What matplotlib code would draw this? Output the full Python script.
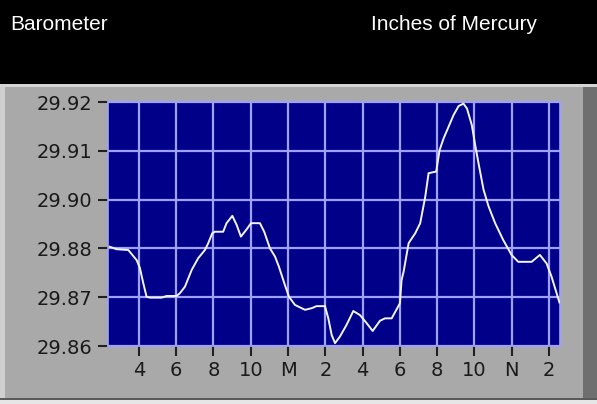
import numpy as np
import matplotlib
matplotlib.use('Agg')
import matplotlib.pyplot as plt
from matplotlib.patches import Rectangle
from matplotlib.ticker import FormatStrFormatter

# hours since previous midnight (24 = midnight, 36 = noon)
hours = [14.44, 14.80, 15.43, 15.88, 16.05, 16.23, 16.41, 16.59, 17.22, 17.49,
         18.02, 18.20, 18.47, 18.83, 19.18, 19.54, 19.72, 19.93, 20.08, 20.52,
         20.70, 21.01, 21.24, 21.47, 21.78, 22.01, 22.49, 22.72, 23.03, 23.30,
         23.51, 23.83, 24.05, 24.37, 24.91, 25.27, 25.53, 25.98, 26.16, 26.34,
         26.52, 26.78, 27.14, 27.50, 27.86, 28.22, 28.54, 28.93, 29.20, 29.56,
         30.00, 30.09, 30.20, 30.47, 30.82, 31.09, 31.36, 31.54, 31.95, 32.13,
         32.35, 32.61, 32.88, 33.15, 33.41, 33.60, 33.86, 34.04, 34.22, 34.49,
         34.76, 35.11, 35.54, 35.99, 36.35, 37.07, 37.51, 37.87, 38.14, 38.56]
pressure = [29.8844, 29.8838, 29.8836, 29.8811, 29.8792, 29.8755, 29.8721, 29.8719, 29.8719, 29.8723,
            29.8723, 29.8730, 29.8746, 29.8787, 29.8816, 29.8836, 29.8853, 29.8877, 29.8881, 29.8881,
            29.8902, 29.8920, 29.8898, 29.8869, 29.8887, 29.8902, 29.8902, 29.8881, 29.8840, 29.8820,
            29.8795, 29.8750, 29.8721, 29.8701, 29.8689, 29.8693, 29.8698, 29.8698, 29.8668, 29.8627,
            29.8607, 29.8623, 29.8652, 29.8686, 29.8676, 29.8656, 29.8637, 29.8662, 29.8668, 29.8668,
            29.8705, 29.8762, 29.8783, 29.8853, 29.8877, 29.8902, 29.8967, 29.9025, 29.9029, 29.9082,
            29.9111, 29.9139, 29.9168, 29.9190, 29.9196, 29.9184, 29.9143, 29.9094, 29.9049, 29.8984,
            29.8943, 29.8902, 29.8861, 29.8824, 29.8807, 29.8807, 29.8824, 29.8803, 29.8770, 29.8707]

tick_hours = [16, 18, 20, 22, 24, 26, 28, 30, 32, 34, 36, 38]
tick_labels = ['4', '6', '8', '10', 'M', '2', '4', '6', '8', '10', 'N', '2']
y_min, y_max = 29.86, 29.92

fig = plt.figure(figsize=(5.97, 4.04), dpi=100)
fig.patch.set_facecolor('#a9a9a9')

# panel decoration: black header, bevels
fig.patches.append(Rectangle((0, 1 - 84 / 404), 1, 84 / 404, transform=fig.transFigure,
                             facecolor='black', edgecolor='none', zorder=0))
fig.patches.append(Rectangle((0, 1 - 87 / 404), 1, 3 / 404, transform=fig.transFigure,
                             facecolor='#d4d4d4', edgecolor='none', zorder=0))
fig.patches.append(Rectangle((0, 0), 5 / 597, 1 - 87 / 404, transform=fig.transFigure,
                             facecolor='#cfcfcf', edgecolor='none', zorder=0))
fig.patches.append(Rectangle((583 / 597, 0), 14 / 597, 1 - 87 / 404, transform=fig.transFigure,
                             facecolor='#6f6f6f', edgecolor='none', zorder=0))
fig.patches.append(Rectangle((0, 0), 1, 4 / 404, transform=fig.transFigure,
                             facecolor='#e6e6e6', edgecolor='none', zorder=0))
fig.patches.append(Rectangle((0, 4 / 404), 1, 2 / 404, transform=fig.transFigure,
                             facecolor='#5a5a5a', edgecolor='none', zorder=0))

fig.text(10 / 597, 1 - 25 / 404, 'Barometer', color='white', fontsize=15,
         family='Liberation Sans', va='center', ha='left')
fig.text(371 / 597, 1 - 25 / 404, 'Inches of Mercury', color='white', fontsize=15,
         family='Liberation Sans', va='center', ha='left')

ax = fig.add_axes([108 / 597, 1 - 346 / 404, 452 / 597, 244 / 404])
ax.set_facecolor('#000088')
ax.plot(hours, pressure, color='#f4f4f4', lw=1.4, zorder=3)

ax.set_xlim(14.34, 38.59)
ax.set_ylim(y_min, y_max)
ax.set_xticks(tick_hours)
ax.set_xticklabels(tick_labels)
ax.set_yticks(np.linspace(y_min, y_max, 6))
ax.yaxis.set_major_formatter(FormatStrFormatter('%.2f'))

ax.grid(True, color='#a0a0ff', lw=1.6, zorder=1)
for s in ax.spines.values():
    s.set_color('#a0a0ff')
    s.set_linewidth(1.2)

ax.tick_params(axis='both', direction='out', length=7, width=1.5, color='#202020',
               labelsize=14, labelcolor='#1a1a1a', pad=4)
for lab in ax.get_xticklabels() + ax.get_yticklabels():
    lab.set_family('DejaVu Sans')

fig.savefig('out.png', dpi=100, facecolor=fig.get_facecolor())
